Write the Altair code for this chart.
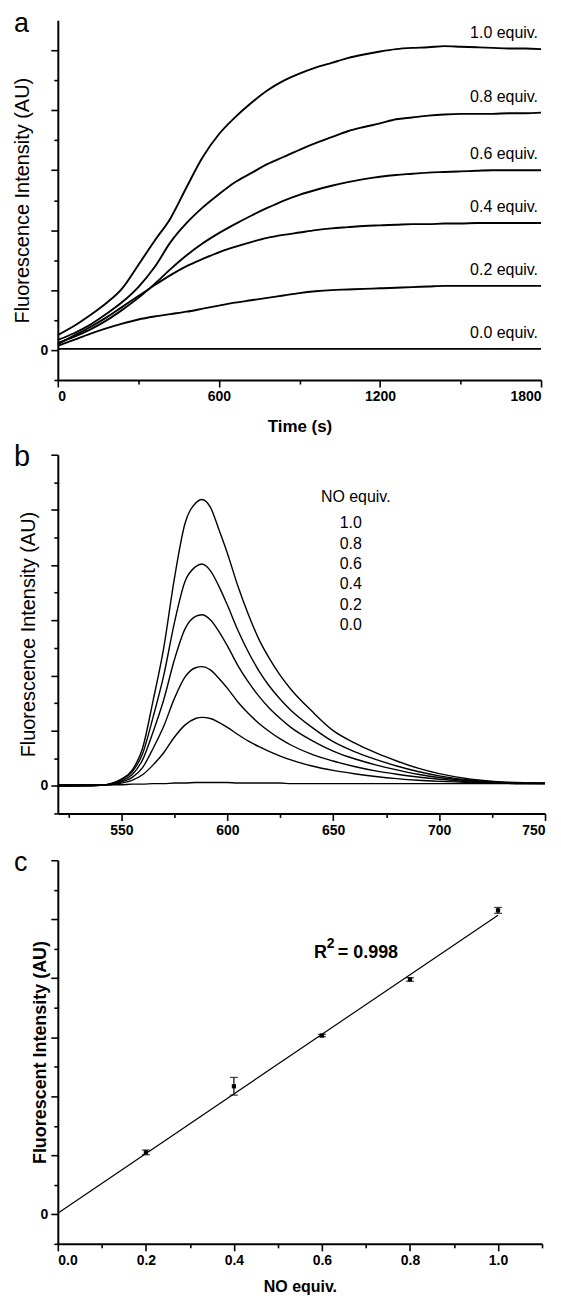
import altair as alt
import pandas as pd

FONT = "Liberation Sans"

# ---------------- panel a : kinetics ----------------
time_s = [0, 60, 120, 180, 240, 300, 360, 420, 480, 540, 600, 660, 720, 780, 840,
          900, 960, 1020, 1080, 1140, 1200, 1260, 1320, 1380, 1440, 1500, 1560,
          1620, 1680, 1740, 1800]
kin_10 = [0.25, 0.40, 0.58, 0.78, 1.03, 1.42, 1.82, 2.20, 2.72, 3.22, 3.60, 3.88,
          4.12, 4.33, 4.49, 4.61, 4.71, 4.79, 4.87, 4.93, 4.98, 5.02, 5.04, 5.05,
          5.07, 5.06, 5.05, 5.04, 5.03, 5.03, 5.02]
kin_08 = [0.17, 0.28, 0.42, 0.60, 0.80, 1.05, 1.38, 1.80, 2.12, 2.38, 2.60, 2.80,
          2.95, 3.10, 3.22, 3.34, 3.45, 3.55, 3.65, 3.72, 3.78, 3.85, 3.88, 3.91,
          3.93, 3.94, 3.94, 3.94, 3.95, 3.95, 3.96]
kin_06 = [0.12, 0.22, 0.34, 0.49, 0.67, 0.87, 1.10, 1.35, 1.58, 1.78, 1.95, 2.10,
          2.24, 2.37, 2.49, 2.59, 2.67, 2.74, 2.80, 2.85, 2.89, 2.92, 2.94, 2.96,
          2.97, 2.98, 2.99, 3.00, 3.00, 3.00, 3.00]
kin_04 = [0.10, 0.24, 0.38, 0.54, 0.72, 0.90, 1.08, 1.25, 1.40, 1.52, 1.63, 1.72,
          1.80, 1.87, 1.92, 1.96, 2.00, 2.03, 2.05, 2.07, 2.08, 2.09, 2.10, 2.10,
          2.11, 2.11, 2.12, 2.12, 2.12, 2.12, 2.12]
kin_02 = [0.07, 0.17, 0.27, 0.36, 0.44, 0.51, 0.56, 0.60, 0.64, 0.69, 0.74, 0.79,
          0.83, 0.87, 0.91, 0.95, 0.98, 1.00, 1.01, 1.02, 1.03, 1.04, 1.05, 1.06,
          1.07, 1.07, 1.07, 1.07, 1.07, 1.07, 1.07]
kin_00 = [0.02, 0.02, 0.02, 0.02, 0.02, 0.02, 0.02, 0.02, 0.02, 0.02, 0.02, 0.02,
          0.02, 0.02, 0.02, 0.02, 0.02, 0.02, 0.02, 0.02, 0.02, 0.02, 0.02, 0.02,
          0.02, 0.02, 0.02, 0.02, 0.02, 0.02, 0.02]
equiv_labels = ["1.0", "0.8", "0.6", "0.4", "0.2", "0.0"]

# ---------------- panel b : spectra ----------------
spec_nm = [520, 540, 545, 550, 555, 560, 565, 570, 575, 580, 585, 588, 592, 596,
           600, 605, 610, 615, 620, 625, 630, 640, 650, 660, 670, 680, 690, 700,
           715, 730, 750]
spec_10 = [0.00, 0.01, 0.04, 0.12, 0.28, 0.68, 1.55, 2.50, 3.75, 4.75, 5.12, 5.19,
           5.05, 4.65, 4.22, 3.62, 3.10, 2.65, 2.30, 2.00, 1.75, 1.35, 1.00, 0.78,
           0.60, 0.45, 0.32, 0.22, 0.12, 0.07, 0.05]
spec_08 = [0.00, 0.01, 0.04, 0.11, 0.25, 0.58, 1.25, 2.00, 2.95, 3.70, 3.97, 4.02,
           3.90, 3.62, 3.28, 2.82, 2.42, 2.08, 1.80, 1.57, 1.37, 1.06, 0.80, 0.62,
           0.48, 0.36, 0.26, 0.18, 0.10, 0.06, 0.05]
spec_06 = [0.00, 0.01, 0.03, 0.09, 0.20, 0.47, 0.98, 1.56, 2.28, 2.84, 3.07, 3.10,
           3.01, 2.80, 2.54, 2.18, 1.88, 1.62, 1.40, 1.22, 1.06, 0.82, 0.63, 0.49,
           0.38, 0.29, 0.21, 0.15, 0.09, 0.05, 0.04]
spec_04 = [0.00, 0.01, 0.03, 0.07, 0.15, 0.33, 0.68, 1.08, 1.58, 1.97, 2.14, 2.16,
           2.10, 1.95, 1.77, 1.52, 1.31, 1.13, 0.98, 0.85, 0.74, 0.57, 0.45, 0.35,
           0.27, 0.21, 0.16, 0.12, 0.07, 0.05, 0.04]
spec_02 = [0.00, 0.01, 0.02, 0.05, 0.10, 0.20, 0.38, 0.60, 0.88, 1.10, 1.22, 1.24,
           1.22, 1.15, 1.06, 0.93, 0.81, 0.71, 0.62, 0.54, 0.47, 0.36, 0.28, 0.22,
           0.17, 0.13, 0.10, 0.08, 0.06, 0.05, 0.04]
spec_00 = [0.02, 0.02, 0.02, 0.02, 0.03, 0.03, 0.04, 0.04, 0.05, 0.05, 0.06, 0.06,
           0.06, 0.06, 0.06, 0.05, 0.05, 0.05, 0.05, 0.05, 0.04, 0.04, 0.04, 0.04,
           0.04, 0.04, 0.04, 0.04, 0.04, 0.04, 0.04]
legend_title = "NO equiv."

# ---------------- panel c : calibration ----------------
cal_x = [0.2, 0.4, 0.6, 0.8, 1.0]
cal_y = [1.05, 2.17, 3.03, 3.98, 5.15]
cal_err = [0.04, 0.15, 0.02, 0.03, 0.05]
fit_x = [0.0, 1.0]
fit_y = [0.02, 5.07]
r2_text = "0.998"

# ---------------- tables ----------------
rows = []
for lab, vals in zip(equiv_labels, [kin_10, kin_08, kin_06, kin_04, kin_02, kin_00]):
    for t, v in zip(time_s, vals):
        rows.append({"t": t, "v": v, "eq": lab})
df_a = pd.DataFrame(rows)
df_a_end = df_a[df_a["t"] == time_s[-1]].copy()
df_a_end["txt"] = df_a_end["eq"] + " equiv."

rows = []
for lab, vals in zip(equiv_labels, [spec_10, spec_08, spec_06, spec_04, spec_02, spec_00]):
    for w, v in zip(spec_nm, vals):
        rows.append({"nm": w, "v": v, "eq": lab})
df_b = pd.DataFrame(rows)

df_leg = pd.DataFrame({"txt": equiv_labels, "row": list(range(len(equiv_labels)))})

df_c = pd.DataFrame({"x": cal_x, "y": cal_y, "lo": [y - e for y, e in zip(cal_y, cal_err)],
                     "hi": [y + e for y, e in zip(cal_y, cal_err)]})
df_fit = pd.DataFrame({"x": fit_x, "y": fit_y})

LABEL_DX = -44


def tick_size(test):
    return {"condition": {"test": test, "value": 7}, "value": 4}


def y_axis(title, title_x, bold, size, vals):
    return alt.Axis(
        title=title, values=vals, labelExpr="datum.value == 0 ? '0' : ''",
        labelOverlap=False,
        tickSize=tick_size("datum.value % 1 == 0"), tickWidth=1.6, domainWidth=2,
        labelFontWeight="bold", labelFontSize=14, labelPadding=3,
        titleFontWeight="bold" if bold else "normal", titleFontSize=size,
        titleX=title_x, titleBaseline="middle", grid=False,
    )


def panel_label(letter, size=29, base=11):
    return alt.Chart(pd.DataFrame({"lab": [letter]})).mark_text(
        align="left", baseline="alphabetic", fontSize=size, font=FONT, color="black"
    ).encode(text="lab:N", x=alt.value(LABEL_DX), y=alt.value(base))


def spacer(y):
    return alt.Chart(pd.DataFrame({"s": ["."]})).mark_text(
        baseline="top", fontSize=6, opacity=0, font=FONT).encode(
        text="s:N", x=alt.value(200), y=alt.value(y))


halves_a = [i * 0.5 for i in range(-1, 11)]
halves_bc = [i * 0.5 for i in range(-1, 13)]

# ---------- panel a ----------
W_A, H_A = 485, 361
xa_axis = alt.Axis(title="Time (s)", values=list(range(0, 1801, 300)), format="d",
                   labelExpr="datum.value % 600 == 0 ? datum.label : ''",
                   labelOverlap=False,
                   tickSize=tick_size("datum.value % 600 == 0"), tickWidth=1.6,
                   domainWidth=2, labelFontWeight="bold", labelFontSize=14,
                   labelPadding=3, titleFontWeight="bold", titleFontSize=17,
                   titleY=47, titleBaseline="middle", grid=False)
ya_axis = y_axis("Fluorescence Intensity (AU)", -35, False, 20, halves_a)
xa_sc = alt.Scale(domain=[0, 1800], nice=False)
ya_sc = alt.Scale(domain=[-0.5, 5.5], nice=False, zero=False)
a_lines = alt.Chart(df_a).mark_line(color="black", strokeWidth=1.9, interpolate="monotone").encode(
    x=alt.X("t:Q", scale=xa_sc, axis=xa_axis), y=alt.Y("v:Q", scale=ya_sc, axis=ya_axis),
    detail="eq:N")
a_text = alt.Chart(df_a_end).mark_text(align="right", baseline="middle", dx=-3, dy=-16,
                                       fontSize=16, font=FONT, color="black").encode(
    x=alt.X("t:Q", scale=xa_sc, axis=xa_axis), y=alt.Y("v:Q", scale=ya_sc, axis=ya_axis),
    text="txt:N")
panel_a = alt.layer(a_lines, a_text, panel_label("a", 27, 12)).properties(
    width=W_A, height=H_A)

# ---------- panel b ----------
W_B, H_B = 489, 360
xb = alt.X("nm:Q", scale=alt.Scale(domain=[520, 750], nice=False, zero=False),
           axis=alt.Axis(title=None, values=list(range(525, 751, 25)), format="d",
                         labelExpr="datum.value % 50 == 0 ? datum.label : ''",
                         labelOverlap=False,
                         tickSize=tick_size("datum.value % 50 == 0"), tickWidth=1.6,
                         domainWidth=2, labelFontWeight="bold", labelFontSize=14,
                         labelPadding=3, grid=False))
yb = alt.Y("v:Q", scale=alt.Scale(domain=[-0.5, 6], nice=False, zero=False),
           axis=y_axis("Fluorescence Intensity (AU)", -29, False, 20, halves_bc))
b_lines = alt.Chart(df_b).mark_line(color="black", strokeWidth=1.4, interpolate="monotone").encode(
    x=xb, y=yb, detail="eq:N")
b_leg_title = alt.Chart(pd.DataFrame({"txt": [legend_title]})).mark_text(
    align="center", baseline="middle", fontSize=16, font=FONT, color="black").encode(
    text="txt:N", x=alt.value(299), y=alt.value(42))
b_leg = alt.Chart(df_leg).transform_calculate(py="69 + 20.4 * datum.row").mark_text(
    align="center", baseline="middle", fontSize=16, font=FONT, color="black").encode(
    text="txt:N", x=alt.value(294), y=alt.Y("py:Q", scale=None))
panel_b = alt.layer(b_lines, b_leg_title, b_leg, spacer(H_B + 22), panel_label("b")).properties(
    width=W_B, height=H_B)

# ---------- panel c ----------
W_C, H_C = 486, 385
xc_axis = alt.Axis(title="NO equiv.", values=[round(i * 0.1, 1) for i in range(0, 12)],
                   labelExpr="round(datum.value * 10) % 2 == 0 ? format(datum.value, '.1f') : ''",
                   labelOverlap=False,
                   tickSize=tick_size("round(datum.value * 10) % 2 == 0"), tickWidth=1.6,
                   domainWidth=2, labelFontWeight="bold", labelFontSize=14, labelPadding=3,
                   titleFontWeight="bold", titleFontSize=16, titleY=43,
                   titleBaseline="middle", grid=False)
xsc = alt.Scale(domain=[0, 1.1], nice=False)
ysc = alt.Scale(domain=[-0.5, 6], nice=False, zero=False)
yc_axis = y_axis("Fluorescent Intensity (AU)", -17, True, 18, halves_bc)


def cx(field):
    return alt.X(field, scale=xsc, axis=xc_axis)


def cy(field):
    return alt.Y(field, scale=ysc, axis=yc_axis)


c_fit = alt.Chart(df_fit).mark_line(color="black", strokeWidth=1.2).encode(
    x=cx("x:Q"), y=cy("y:Q"))
c_bar = alt.Chart(df_c).mark_rule(color="black", strokeWidth=1.2).encode(
    x=cx("x:Q"), y=cy("lo:Q"), y2="hi:Q")
c_cap_lo = alt.Chart(df_c).mark_tick(color="black", orient="horizontal", size=8, thickness=1.3).encode(
    x=cx("x:Q"), y=cy("lo:Q"))
c_cap_hi = alt.Chart(df_c).mark_tick(color="black", orient="horizontal", size=8, thickness=1.3).encode(
    x=cx("x:Q"), y=cy("hi:Q"))
c_pts = alt.Chart(df_c).mark_square(color="black", size=18, opacity=1).encode(
    x=cx("x:Q"), y=cy("y:Q"))
c_r = alt.Chart(pd.DataFrame({"t": ["R"]})).mark_text(
    align="left", baseline="alphabetic", fontSize=18, fontWeight="bold", font=FONT, color="black").encode(
    text="t:N", x=alt.value(257), y=alt.value(98))
c_sup = alt.Chart(pd.DataFrame({"t": ["2"]})).mark_text(
    align="left", baseline="alphabetic", fontSize=14, fontWeight="bold", font=FONT, color="black").encode(
    text="t:N", x=alt.value(270), y=alt.value(88))
c_val = alt.Chart(pd.DataFrame({"t": ["= " + r2_text]})).mark_text(
    align="left", baseline="alphabetic", fontSize=18, fontWeight="bold", font=FONT, color="black").encode(
    text="t:N", x=alt.value(281), y=alt.value(98))
panel_c = alt.layer(c_fit, c_bar, c_cap_lo, c_cap_hi, c_pts, c_r, c_sup, c_val,
                    panel_label("c", 27)).properties(width=W_C, height=H_C)

chart = alt.concat(panel_a, panel_b, panel_c, columns=1, spacing=8).properties(
    padding={"left": 5, "top": 0, "right": 5, "bottom": 5}
).configure(font=FONT).configure_view(stroke=None).configure_axis(
    domainColor="black", tickColor="black", labelColor="black", titleColor="black",
    labelFont=FONT, titleFont=FONT
)

chart.save("out.html", embed_options={"renderer": "svg", "actions": False})
